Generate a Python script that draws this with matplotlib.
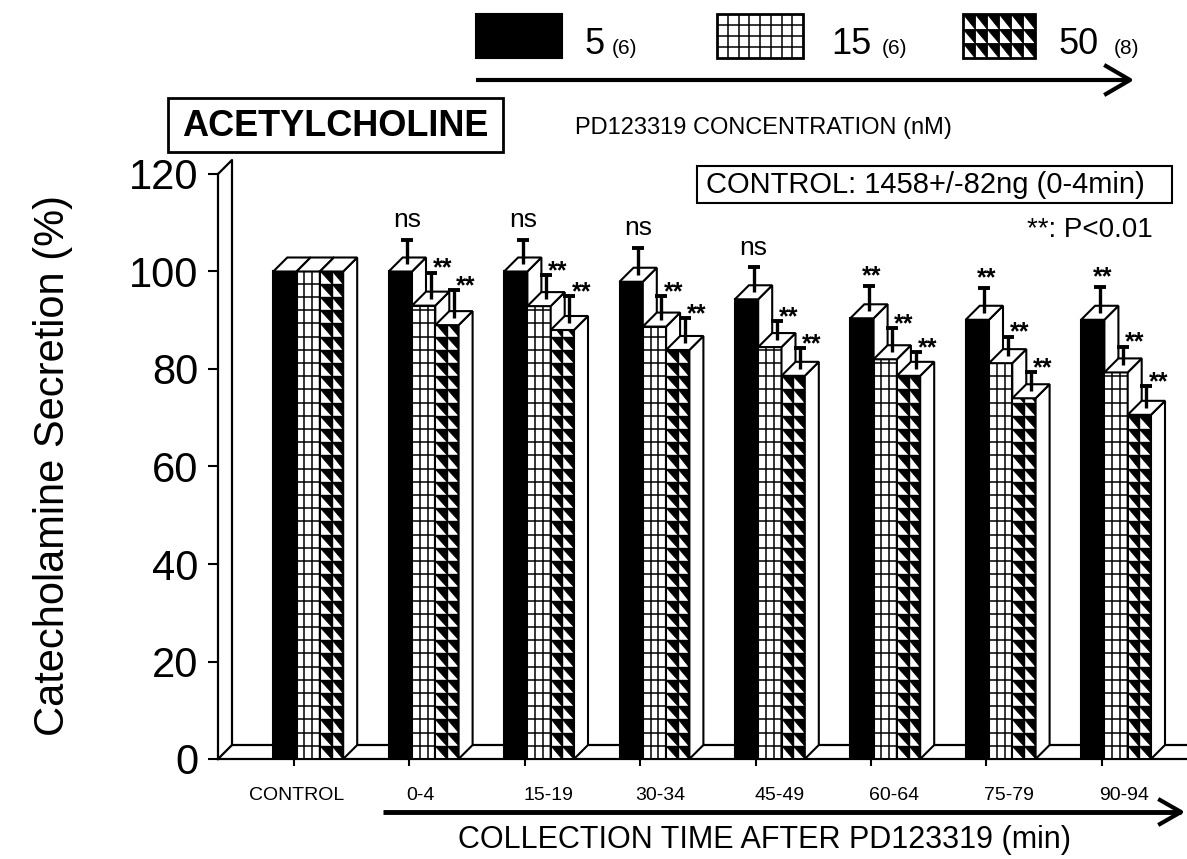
import numpy as np
import matplotlib
matplotlib.use("Agg")
import matplotlib.pyplot as plt
from matplotlib.patches import Rectangle, Polygon
from matplotlib.collections import LineCollection, PolyCollection

plt.rcParams['font.family'] = ['Liberation Sans', 'DejaVu Sans']

# catecholamine secretion, % of control
periods = ["CONTROL", "0-4", "15-19", "30-34", "45-49", "60-64", "75-79", "90-94"]
conc_labels = ["5", "15", "50"]
n_labels = ["(6)", "(6)", "(8)"]
pd5 = [100, 100, 100, 97.9, 94.3, 90.4, 90.1, 90.1]
pd15 = [100, 93.0, 92.9, 88.7, 84.5, 82.0, 81.2, 79.3]
pd50 = [100, 89.0, 88.0, 83.9, 78.6, 78.6, 74.0, 70.6]
err5 = [0, 5.1, 5.1, 5.5, 5.1, 5.1, 5.1, 5.2]
err15 = [0, 5.3, 4.9, 4.8, 3.9, 4.9, 4.0, 3.8]
err50 = [0, 5.7, 5.5, 5.1, 4.2, 3.4, 3.9, 4.4]
sig5 = ["", "ns", "ns", "ns", "ns", "**", "**", "**"]
sig15 = ["", "**", "**", "**", "**", "**", "**", "**"]
sig50 = ["", "**", "**", "**", "**", "**", "**", "**"]

W, H = 1187, 859
fig = plt.figure(figsize=(W / 100, H / 100), dpi=100)
fig.patch.set_facecolor('white')

# plot frame in pixels
X0, Y0, Y120 = 218, 759, 174
GROUP, G0, BW = 115.4, 273.3, 23.3
DEPTH = 14

ax = fig.add_axes([X0 / W, 1 - Y0 / H, 1 - X0 / W, (Y0 - Y120) / H])
ax.patch.set_visible(False)
xmin, xmax = (X0 - G0) / GROUP, (W - G0) / GROUP
ax.set_xlim(xmin, xmax)
ax.set_ylim(0, 120)
sx = GROUP
sy = (Y0 - Y120) / 120.0

bw = BW / sx
dx, dy = DEPTH / sx, DEPTH / sy
rh = 13.2 / sy

# wall + floor
ax.plot([xmin, xmin + dx, xmax + 1], [0, dy, dy], color='k', lw=1.6, clip_on=False, zorder=1)
ax.plot([xmin + dx, xmin + dx, xmin], [dy, 120 + dy, 120], color='k', lw=1.6, clip_on=False, zorder=1)


def draw_bar(x, v, kind, z):
    rect = Rectangle((x, 0), bw, v, fc='black' if kind == 0 else 'white',
                     ec='black', lw=1.5, zorder=z)
    ax.add_patch(rect)
    if kind == 1:
        segs = [[(x + bw * k / 3, 0), (x + bw * k / 3, v)] for k in (1, 2)]
        segs += [[(x, yy), (x + bw, yy)] for yy in np.arange(rh, v, rh)]
        ax.add_collection(LineCollection(segs, colors='k', lw=1.1, zorder=z))
    if kind == 2:
        cw = bw / 2
        tris = []
        for yy in np.arange(0, v, rh):
            for c in range(2):
                xl = x + c * cw
                tris.append([(xl, yy + rh), (xl + cw, yy + rh), (xl + cw, yy)])
        pc = PolyCollection(tris, facecolors='k', edgecolors='k', lw=0.6, zorder=z)
        ax.add_collection(pc)
        pc.set_clip_path(rect)
        segs = [[(x + cw, 0), (x + cw, v)]]
        segs += [[(x, yy), (x + bw, yy)] for yy in np.arange(rh, v, rh)]
        lc = LineCollection(segs, colors='k', lw=1.0, zorder=z)
        ax.add_collection(lc)
    side = Polygon([(x + bw, 0), (x + bw + dx, dy), (x + bw + dx, v + dy), (x + bw, v)],
                   closed=True, fc='white', ec='black', lw=1.5, zorder=z)
    top = Polygon([(x, v), (x + bw, v), (x + bw + dx, v + dy), (x + dx, v + dy)],
                  closed=True, fc='white', ec='black', lw=1.5, zorder=z)
    ax.add_patch(side)
    ax.add_patch(top)


def draw_err(x, v, e, s, kind):
    cx = x + bw / 2 + dx / 2
    yb = v + dy / 2
    ax.plot([cx, cx], [yb, yb + e], color='k', lw=2.4, zorder=60, solid_capstyle='butt')
    ax.plot([cx - 6 / sx, cx + 6 / sx], [yb + e, yb + e], color='k', lw=2.8,
            zorder=60, solid_capstyle='butt')
    if s == "ns":
        ax.annotate(s, (cx, yb + e), xytext=(0, 9), textcoords='offset points',
                    ha='center', va='baseline', fontsize=19, zorder=61)
    elif s and kind == 0:
        ax.annotate(s, (cx, yb + e), xytext=(2, 2), textcoords='offset points',
                    ha='center', va='baseline', fontsize=18, fontweight='bold', zorder=61)
    elif s:
        ax.annotate(s, (cx, yb + e), xytext=(1.5, -2), textcoords='offset points',
                    ha='left', va='baseline', fontsize=18, fontweight='bold', zorder=61)


series = [(pd5, err5, sig5), (pd15, err15, sig15), (pd50, err50, sig50)]
z = 2
for i in range(len(periods)):
    for k, (vals, errs, sigs) in enumerate(series):
        draw_bar(i + k * bw, vals[i], k, z)
        z += 1
for i in range(len(periods)):
    for k, (vals, errs, sigs) in enumerate(series):
        if errs[i] > 0:
            draw_err(i + k * bw, vals[i], errs[i], sigs[i], k)

# axes cosmetics
ax.set_xticks(np.arange(len(periods)) + 20.7 / sx)
ax.set_xticklabels([])
ax.tick_params(axis='x', length=5, width=1.5, direction='out')
ax.set_yticks(range(0, 121, 20))
ax.tick_params(axis='y', length=7, width=1.5, labelsize=30, pad=7)
for s in ['top', 'right']:
    ax.spines[s].set_visible(False)
for s in ['left', 'bottom']:
    ax.spines[s].set_linewidth(1.6)

label_off = [23.7, 31.3, 43.9, 40.5, 45, 43.7, 43.3, 43]
for i, lab in enumerate(periods):
    ax.text(i + label_off[i] / sx, -(796 - Y0) / sy, lab, ha='center', va='center',
            fontsize=14, clip_on=False)

fig.text(53 / W, 1 - 465 / H, "Catecholamine Secretion (%)", rotation=90,
         ha='center', va='center', fontsize=30)

# overlay in pixel coordinates for legend and notes
ov = fig.add_axes([0, 0, 1, 1], zorder=5)
ov.set_xlim(0, W)
ov.set_ylim(H, 0)
ov.axis('off')

# legend boxes
ov.add_patch(Rectangle((476, 14), 86, 44, fc='k', ec='k', lw=1.5))
ov.add_patch(Rectangle((717, 14), 86, 44, fc='white', ec='k', lw=2))
segs = [[(717 + 86 * c / 8, 14), (717 + 86 * c / 8, 58)] for c in range(1, 8)]
segs += [[(717, 14 + 11 * r), (803, 14 + 11 * r)] for r in range(1, 4)]
ov.add_collection(LineCollection(segs, colors='k', lw=1.1))
tx, ty, tw, th = 963, 14, 72, 44
tri_box = Rectangle((tx, ty), tw, th, fc='white', ec='k', lw=2)
ov.add_patch(tri_box)
tris = []
for r in range(3):
    for c in range(6):
        xl, yt = tx + c * tw / 6, ty + r * th / 3
        tris.append([(xl, yt), (xl + tw / 6, yt), (xl + tw / 6, yt + th / 3)])
ov.add_collection(PolyCollection(tris, facecolors='k', edgecolors='k', lw=0.6))

for x_num, x_n, num, nl in zip([585, 831, 1058], [612, 882, 1114], conc_labels, n_labels):
    ov.text(x_num, 54, num, fontsize=26, ha='left', va='baseline')
    ov.text(x_n, 54, nl, fontsize=15, ha='left', va='baseline')

# arrows
ov.plot([476, 1130], [80, 80], color='k', lw=3, solid_capstyle='butt')
ov.plot([1106, 1130, 1106], [66, 80, 94], color='k', lw=3)
ov.text(575, 128, "PD123319 CONCENTRATION (nM)", fontsize=17, ha='left', va='center')

ov.plot([383, 1181], [812, 812], color='k', lw=3.5, solid_capstyle='butt')
ov.plot([1160, 1181, 1160], [800, 812, 824], color='k', lw=3)
ov.text(765, 840, "COLLECTION TIME AFTER PD123319 (min)", fontsize=22, ha='center', va='center')

# boxed labels
ov.add_patch(Rectangle((168, 98), 335, 54, fc='white', ec='k', lw=2))
ov.text(335, 126, "ACETYLCHOLINE", fontsize=26, fontweight='bold', ha='center', va='center')
ov.add_patch(Rectangle((697, 166), 475, 37, fc='white', ec='k', lw=1.5))
ov.text(706, 185, "CONTROL: 1458+/-82ng (0-4min)", fontsize=21, ha='left', va='center')
ov.text(1153, 230, "**: P<0.01", fontsize=20, ha='right', va='center')

fig.savefig("out.png", dpi=100)
